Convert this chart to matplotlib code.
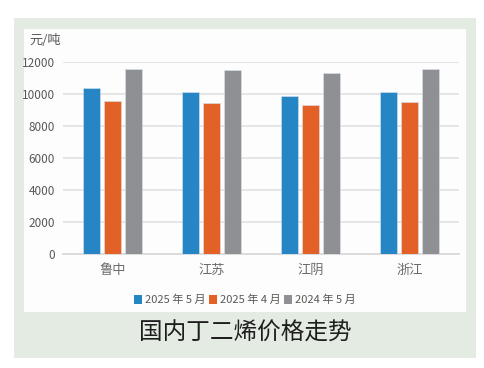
import numpy as np
import matplotlib
matplotlib.use("Agg")
import matplotlib.pyplot as plt
from matplotlib.patches import Rectangle, Patch

plt.rcParams['font.family'] = ['Noto Sans CJK SC', 'DejaVu Sans']

# data (元/吨)
regions = ['鲁中', '江苏', '江阴', '浙江']
series_names = ['2025 年 5 月', '2025 年 4 月', '2024 年 5 月']
may_2025 = [10400, 10100, 9900, 10150]
apr_2025 = [9550, 9450, 9300, 9500]
may_2024 = [11550, 11500, 11300, 11550]
yticks = [0, 2000, 4000, 6000, 8000, 10000, 12000]
title = '国内丁二烯价格走势'

colors = ['#2585c5', '#e36127', '#8f9094']
W, H = 484, 368

fig = plt.figure(figsize=(W / 100, H / 100), dpi=100, facecolor='white')

# green panel and white chart box (pixel coords -> figure fraction)
def box(x0, y0, x1, y1, color):
    fig.patches.append(Rectangle((x0 / W, 1 - y1 / H), (x1 - x0) / W, (y1 - y0) / H,
                                 transform=fig.transFigure, facecolor=color,
                                 edgecolor='none', zorder=-10))

box(14, 18, 476, 358, '#e4ebe2')
box(24, 29, 466, 312, '#fdfdfd')

ax = fig.add_axes([63 / W, 1 - 254 / H, 396 / W, (254 - 62) / H])
ax.set_zorder(2)
ax.set_facecolor('none')

x = np.arange(len(regions))
bw = 0.167
pitch = 0.212
for i, vals in enumerate([may_2025, apr_2025, may_2024]):
    ax.bar(x + (i - 1) * pitch, vals, width=bw, color=colors[i],
           edgecolor='#d8e4ee', linewidth=0.4, zorder=3, label=series_names[i])

ax.set_xlim(-0.5, len(regions) - 0.5)
ax.set_ylim(0, 12000)
ax.set_yticks(yticks)
ax.set_yticklabels([str(v) for v in yticks], fontsize=8.5, color='#595959')
ax.set_xticks(x)
ax.set_xticklabels(regions, fontsize=9.5, color='#6b6b6b')
ax.tick_params(axis='both', length=0)
ax.tick_params(axis='x', pad=7)
ax.tick_params(axis='y', pad=6)
ax.grid(axis='y', color='#e3e3e3', linewidth=1.3, zorder=0)
ax.set_axisbelow(True)
for s in ['top', 'right', 'left']:
    ax.spines[s].set_visible(False)
ax.spines['bottom'].set_color('#d9d9d9')
ax.spines['bottom'].set_linewidth(1.3)

fig.text(29 / W, 1 - 40 / H, '元/吨', fontsize=9.5, color='#595959', va='center', ha='left')

handles = [Patch(facecolor=c, edgecolor='none') for c in colors]
fig.legend(handles, series_names, loc='center', bbox_to_anchor=(245 / W, 1 - 300 / H),
           ncol=3, frameon=False, fontsize=8, labelcolor='#595959',
           handlelength=0.7, handleheight=0.9, handletextpad=0.3, columnspacing=0.3)

fig.text(245 / W, 1 - 333 / H, title, fontsize=17, color='#1e1e1e',
         ha='center', va='center')

fig.savefig('out.png', dpi=100, facecolor=fig.get_facecolor())
